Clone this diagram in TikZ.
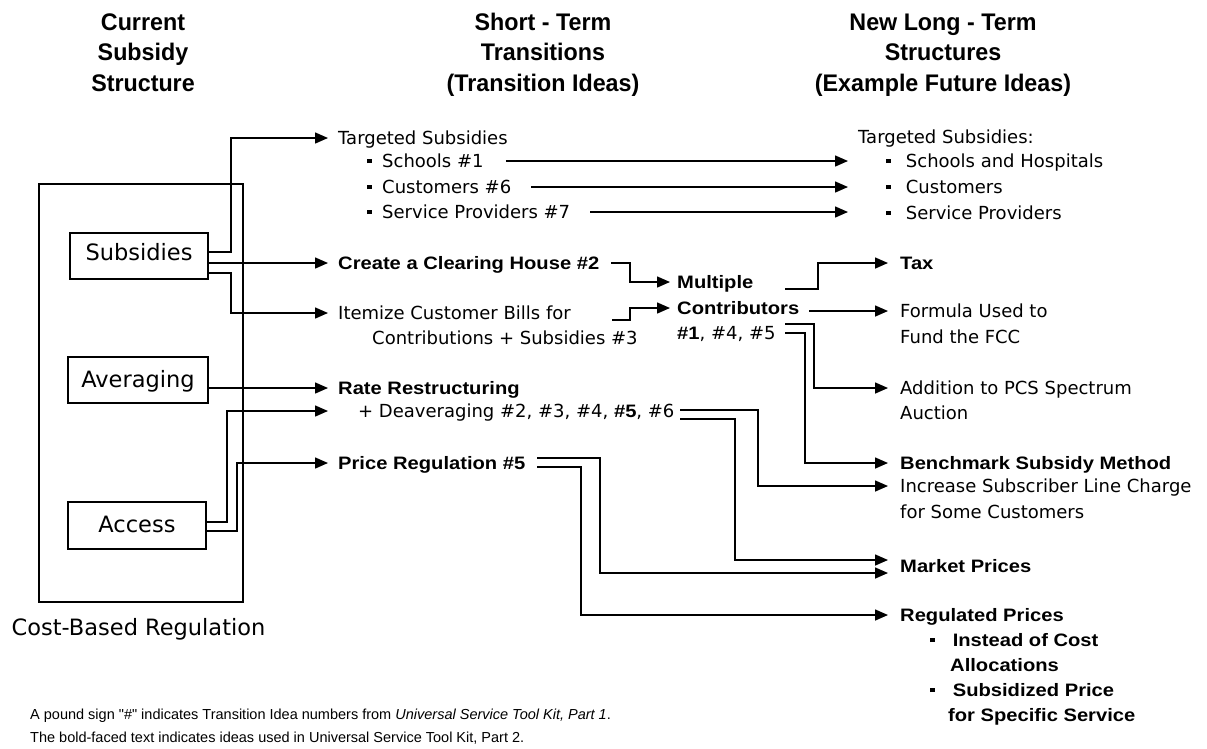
\documentclass[tikz,border=0pt]{standalone}
\usepackage{fontspec}
\setmainfont{DejaVu Sans}
\newfontfamily\bodyf{DejaVu Sans}
\newfontfamily\boldf{Liberation Sans}[FakeStretch=1.12]
\newfontfamily\headf{Liberation Sans}[FakeStretch=0.97]
\newfontfamily\notef{Liberation Sans}
\usetikzlibrary{arrows.meta,calc}
\newcommand\sqb[1][15pt]{\makebox[#1][l]{\raisebox{4.3pt}{\rule{4.4pt}{4.4pt}}}}
\newcommand\B[1]{{\boldf\bfseries #1}}
\begin{document}
\begin{tikzpicture}[x=1pt,y=-1pt,
 every node/.style={inner sep=0pt},
 txt/.style={anchor=west, text height=13pt, text depth=0pt, font=\fontsize{18}{22}\selectfont\bodyf},
 btxt/.style={txt, font=\fontsize{18}{22}\selectfont\boldf\bfseries},
 hd/.style={anchor=center, text height=17.2pt, text depth=0pt, font=\fontsize{24}{28}\selectfont\headf\bfseries},
 box/.style={draw, line width=1.5pt, minimum width=138pt, minimum height=46pt, text height=16.4pt, text depth=2pt, font=\fontsize{22.5}{26}\selectfont\bodyf},
 note/.style={anchor=west, text height=10.4pt, text depth=0pt, font=\fontsize{14.5}{17}\selectfont\notef},
 arr/.style={line width=1.5pt, -{Triangle[length=13pt,width=11pt]}}]

\useasboundingbox (0,0) rectangle (1207,748);

% headers
\node[hd] (h1a) at (143,21.5) {Current};
\node[hd] (h1b) at (143,52) {Subsidy};
\node[hd] (h1c) at (143,82.5) {Structure};
\node[hd] (h2a) at (543,21.5) {Short - Term};
\node[hd] (h2b) at (543,52) {Transitions};
\node[hd] (h2c) at (543,82.5) {(Transition Ideas)};
\node[hd] (h3a) at (943,21.5) {New Long - Term};
\node[hd] (h3b) at (943,52) {Structures};
\node[hd] (h3c) at (943,82.5) {(Example Future Ideas)};

% left column
\node[draw, line width=1.5pt, minimum width=204pt, minimum height=418pt] (csr) at (141,393) {};
\node[box, text depth=8pt] (subs) at (139,256) {Subsidies};
\node[box, minimum width=140pt] (avg) at (138,380) {Averaging};
\node[box, minimum height=47pt] (acc) at (137,525.5) {Access};
\node[anchor=center, text height=16.4pt, text depth=0pt, font=\fontsize{22.5}{26}\selectfont\bodyf] (cbr) at (138.5,627) {Cost-Based Regulation};

% middle column
\node[txt] (ts) at (338,138) {Targeted Subsidies};
\node[txt] (sch) at (367,161) {\sqb Schools \#1};
\node[txt] (cus) at (367,187) {\sqb Customers \#6};
\node[txt] (spv) at (367,212) {\sqb Service Providers \#7};
\node[btxt] (ch) at (338,263) {Create a Clearing House \#2};
\node[txt] (it1) at (338,313) {Itemize Customer Bills for};
\node[txt] (it2) at (372,338) {Contributions + Subsidies \#3};
\node[btxt] (rr) at (338,388) {Rate Restructuring};
\node[txt] (dv) at (358,411) {+ Deaveraging \#2, \#3, \#4, \B{\#5}, \#6};
\node[btxt] (pr) at (338,463) {Price Regulation \#5};
\node[btxt] (mc1) at (677,282) {Multiple};
\node[btxt] (mc2) at (677,308) {Contributors};
\node[txt] (mc3) at (677,333) {\B{\#1}, \#4, \#5};

% right column
\node[txt] (rts) at (858,137) {Targeted Subsidies:};
\node[txt] (rsh) at (886,161) {\sqb[14pt] Schools and Hospitals};
\node[txt] (rcu) at (886,187) {\sqb[14pt] Customers};
\node[txt] (rsp) at (886,213) {\sqb[14pt] Service Providers};
\node[btxt] (tax) at (900,263) {Tax};
\node[txt] (f1) at (900,311) {Formula Used to};
\node[txt] (f2) at (900,337) {Fund the FCC};
\node[txt] (a1) at (900,388) {Addition to PCS Spectrum};
\node[txt] (a2) at (900,413) {Auction};
\node[btxt] (bm) at (900,463) {Benchmark Subsidy Method};
\node[txt] (inc1) at (900,486) {Increase Subscriber Line Charge};
\node[txt] (inc2) at (900,512) {for Some Customers};
\node[btxt] (mp) at (900,566) {Market Prices};
\node[btxt] (rp) at (900,615) {Regulated Prices};
\node[btxt] (rp1) at (930,640) {\sqb[17pt] Instead of Cost};
\node[btxt] (rp2) at (950,665) {Allocations};
\node[btxt] (rp3) at (930,690) {\sqb[17pt] Subsidized Price};
\node[btxt] (rp4) at (948,715) {for Specific Service};

% footnotes
\node[note] (fn1) at (30,714) {A pound sign "\#" indicates Transition Idea numbers from \textit{Universal Service Tool Kit, Part 1}.};
\node[note] (fn2) at (30,737) {The bold-faced text indicates ideas used in Universal Service Tool Kit, Part 2.};

% helper columns
\coordinate (tM) at (328,0);
\coordinate (tC) at (670,0);
\coordinate (tR1) at (848,0);
\coordinate (tR2) at (888,0);
\coordinate (cx) at (630,0);
\coordinate (mx) at (785,0);
\coordinate (dx) at (680,0);
\coordinate (px) at (537,0);

% connectors from current structure
\draw[arr] ($(subs.east)+(0,-4)$) -| ($(ts.west)+(-107,0)$) -- (ts.west -| tM);
\draw[arr] ($(subs.east)+(0,7)$) -- (ch.west -| tM);
\draw[arr] ($(subs.east)+(0,17)$) -| ($(it1.west)+(-107,0)$) -- (it1.west -| tM);
\draw[arr] ($(avg.east)+(0,8)$) -- (rr.west -| tM);
\draw[arr] ($(acc.east)+(0,-3.5)$) -| ($(dv.west)+(-131,0)$) -- (dv.west -| tM);
\draw[arr] ($(acc.east)+(0,5.5)$) -| ($(pr.west)+(-101,0)$) -- (pr.west -| tM);

% targeted subsidies
\draw[arr] ($(sch.east)+(22,0)$) -- (sch.east -| tR1);
\draw[arr] ($(cus.east)+(20,0)$) -- (cus.east -| tR1);
\draw[arr] ($(spv.east)+(20,0)$) -- (spv.east -| tR1);

% into multiple contributors
\draw[arr] ($(ch.east)+(12,0)$) -| (mc1.west -| cx) -- (mc1.west -| tC);
\draw[arr] ($(it1.west -| cx)+(-18,7)$) -| (mc2.west -| cx) -- (mc2.west -| tC);

% out of multiple contributors
\draw[arr] ($(mc1.west -| mx)+(0,7)$) -| ($(tax.west)+(-82,0)$) -- (tax.west -| tR2);
\coordinate (c13) at ($(mc2.east)+(10,0)$);
\draw[arr] (c13 |- f1.west) -- (f1.west -| tR2);
\draw[arr] ($(mc3.west -| mx)+(0,-9)$) -| ($(a1.west)+(-86,0)$) -- (a1.west -| tR2);
\draw[arr] (mc3.west -| mx) -| ($(bm.west)+(-95,0)$) -- (bm.west -| tR2);

% rate restructuring and price regulation
\draw[arr] ($(dv.west -| dx)+(0,-1)$) -| ($(inc1.west)+(-142,0)$) -- (inc1.west -| tR2);
\draw[arr] ($(dv.west -| dx)+(0,8)$) -| ($(mp.west)+(-165,-6)$) -- ($(mp.west -| tR2)+(0,-6)$);
\draw[arr] ($(pr.west -| px)+(0,-5)$) -| ($(mp.west)+(-300,7)$) -- ($(mp.west -| tR2)+(0,7)$);
\draw[arr] ($(pr.west -| px)+(0,4)$) -| ($(rp.west)+(-319,0)$) -- (rp.west -| tR2);
\end{tikzpicture}
\end{document}
